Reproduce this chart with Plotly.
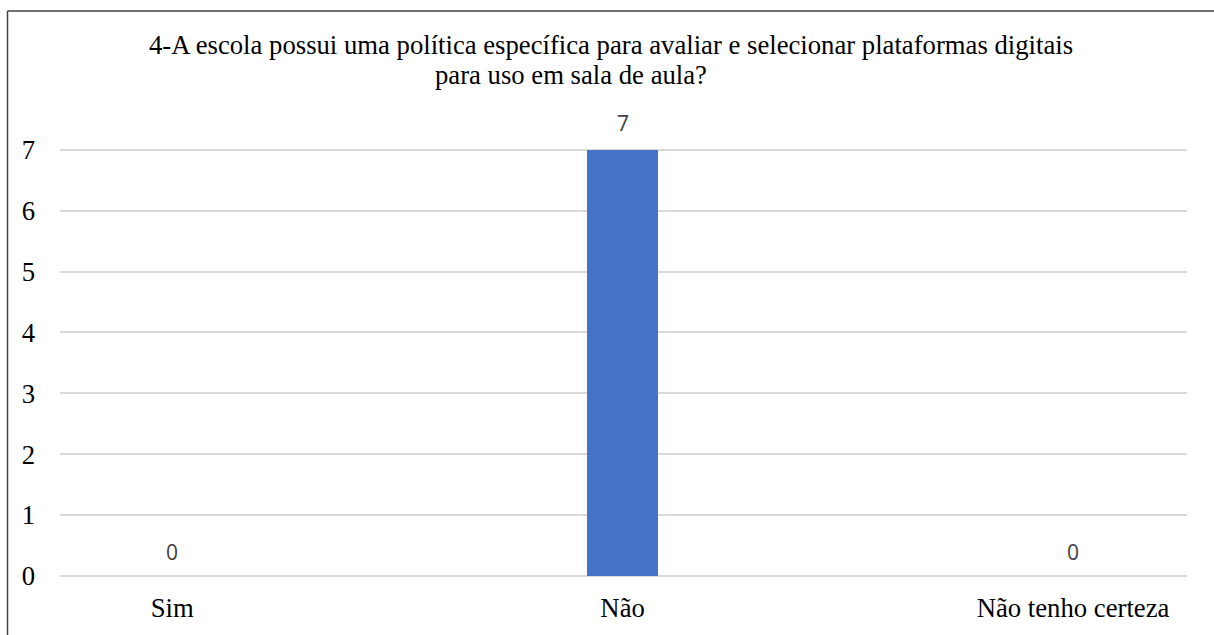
import plotly.graph_objects as go

categories = ["Sim", "Não", "Não tenho certeza"]
values = [0, 7, 0]
y_ticks = [0, 1, 2, 3, 4, 5, 6, 7]
title_line1 = "4-A escola possui uma política específica para avaliar e selecionar plataformas digitais"
title_line2 = "para uso em sala de aula?"

W, H = 1214, 635
L, R, T, B = 60, 27, 101, 57
pw, ph = W - L - R, H - T - B

SERIF = "Liberation Serif"
SANS = "Open Sans"

xpos = list(range(len(categories)))

fig = go.Figure()
fig.add_trace(go.Bar(
    x=xpos, y=values, width=0.157,
    marker=dict(color="#4472C4", line=dict(width=0)),
    hoverinfo="skip", showlegend=False,
))

def px_to_paper_x(px):
    return (px - L) / pw

def px_to_paper_y(py):
    return (H - B - py) / ph

for xi, v in zip(xpos, values):
    fig.add_annotation(
        x=xi, y=v, xref="x", yref="y", text=str(v), showarrow=False,
        yshift=27 if v > 0 else 24,
        font=dict(family=SANS, size=21, color="#404040"),
    )

fig.add_annotation(
    x=px_to_paper_x(611), y=px_to_paper_y(45), xref="paper", yref="paper",
    text=title_line1, showarrow=False, xanchor="center", yanchor="middle",
    font=dict(family=SERIF, size=26.7, color="#000000"),
)
fig.add_annotation(
    x=px_to_paper_x(571), y=px_to_paper_y(75), xref="paper", yref="paper",
    text=title_line2, showarrow=False, xanchor="center", yanchor="middle",
    font=dict(family=SERIF, size=26.7, color="#000000"),
)

# outer frame (top and left edges visible)
fig.add_shape(
    type="line", xref="paper", yref="paper",
    x0=px_to_paper_x(7.5), x1=px_to_paper_x(1220),
    y0=px_to_paper_y(10.5), y1=px_to_paper_y(10.5),
    line=dict(color="#404040", width=1.5), layer="below",
)
fig.add_shape(
    type="line", xref="paper", yref="paper",
    x0=px_to_paper_x(7.5), x1=px_to_paper_x(7.5),
    y0=px_to_paper_y(10.5), y1=px_to_paper_y(640),
    line=dict(color="#404040", width=1.5), layer="below",
)

fig.update_layout(
    width=W, height=H,
    margin=dict(l=L, r=R, t=T, b=B, pad=0),
    paper_bgcolor="white", plot_bgcolor="white",
    bargap=0,
    xaxis=dict(
        range=[-0.249, 2.253],
        tickmode="array", tickvals=xpos, ticktext=categories,
        showgrid=False, zeroline=False, showline=False,
        ticks="", ticklabelstandoff=13,
        tickfont=dict(family=SERIF, size=26.7, color="#000000"),
        fixedrange=True,
    ),
    yaxis=dict(
        range=[0, 7.8],
        tickmode="array", tickvals=y_ticks,
        showgrid=True, gridcolor="#d9d9d9", gridwidth=1.5,
        zeroline=True, zerolinecolor="#d9d9d9", zerolinewidth=1.5,
        showline=False, ticks="", ticklabelstandoff=24,
        tickfont=dict(family=SERIF, size=26.7, color="#000000"),
        fixedrange=True,
    ),
)

fig.write_html("out.html", config={"displayModeBar": False})
